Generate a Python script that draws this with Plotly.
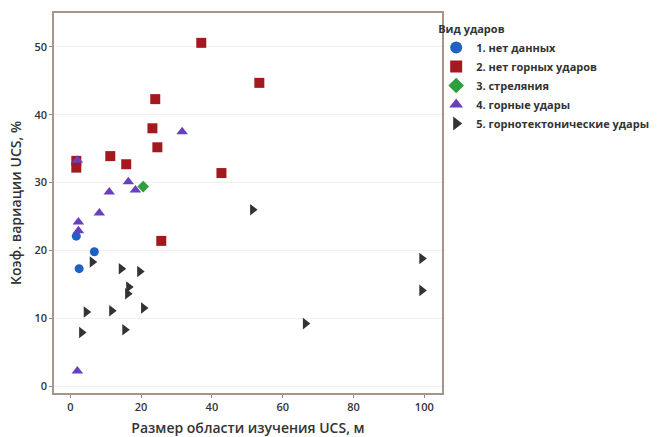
import plotly.graph_objects as go

# 1. нет данных
x1 = [1.7, 6.8, 2.5]
y1 = [22.1, 19.8, 17.3]
# 2. нет горных ударов
x2 = [1.7, 1.7, 11.3, 15.8, 24.0, 23.2, 24.6, 37.0, 53.4, 42.7, 25.7]
y2 = [33.2, 32.2, 33.9, 32.7, 42.3, 38.0, 35.2, 50.6, 44.7, 31.4, 21.4]
# 3. стреляния
x3 = [20.6]
y3 = [29.4]
# 4. горные удары
x4 = [2.0, 31.6, 11.0, 16.4, 18.4, 8.2, 2.3, 2.3, 2.0]
y4 = [33.3, 37.5, 28.6, 30.1, 28.9, 25.5, 24.2, 22.9, 2.2]
# 5. горнотектонические удары
x5 = [6.2, 14.4, 19.6, 16.5, 16.2, 4.5, 11.7, 20.7, 3.2, 15.4, 51.5, 99.3, 99.3, 66.4]
y5 = [18.3, 17.3, 16.9, 14.6, 13.6, 10.9, 11.1, 11.5, 7.9, 8.3, 26.0, 18.8, 14.1, 9.2]

names = ["1. нет данных", "2. нет горных ударов", "3. стреляния",
         "4. горные удары", "5. горнотектонические удары"]
xs = [x1, x2, x3, x4, x5]
ys = [y1, y2, y3, y4, y5]
symbols = ["circle", "square", "diamond", "triangle-up", "triangle-right"]
colors = ["#1f62c4", "#a3191e", "#2e9e3e", "#6a3fbf", "#333333"]
sizes = [9, 10, 9, 10, 10]

fig = go.Figure()
for x, y, n, s, c, sz in zip(xs, ys, names, symbols, colors, sizes):
    fig.add_trace(go.Scatter(x=x, y=y, mode="markers", name=n,
                             marker=dict(symbol=s, color=c, size=sz)))

axis_common = dict(showline=True, linecolor="#a89488", linewidth=1.5, mirror=True,
                   ticks="outside", ticklen=3, tickcolor="#888", zeroline=False,
                   automargin=False,
                   tickfont=dict(size=11, color="#333", weight=600))
fig.update_xaxes(range=[-4.6, 105], tickvals=[0, 20, 40, 60, 80, 100], showgrid=False,
                 title=dict(text="Размер области изучения UCS, м",
                            font=dict(size=14, color="#333", weight=600), standoff=10),
                 **axis_common)
fig.update_yaxes(range=[-1.03, 55], tickvals=[0, 10, 20, 30, 40, 50], showgrid=True,
                 gridcolor="#f0f0f0",
                 title=dict(text="Коэф. вариации UCS, %",
                            font=dict(size=14, color="#333", weight=600), standoff=10),
                 **axis_common)

fig.update_layout(
    width=668, height=437,
    margin=dict(l=54, r=226, t=13, b=44),
    paper_bgcolor="white", plot_bgcolor="white",
    font=dict(family="Open Sans", color="#333"),
    legend=dict(x=0.985, y=0.985, xanchor="left", yanchor="top",
                bgcolor="rgba(0,0,0,0)",
                title=dict(text="Вид ударов", font=dict(size=11, color="#333", weight="bold")),
                font=dict(size=11, color="#333", weight="bold"),
                itemsizing="constant", tracegroupgap=0, itemwidth=30),
)
fig.write_html("out.html")
